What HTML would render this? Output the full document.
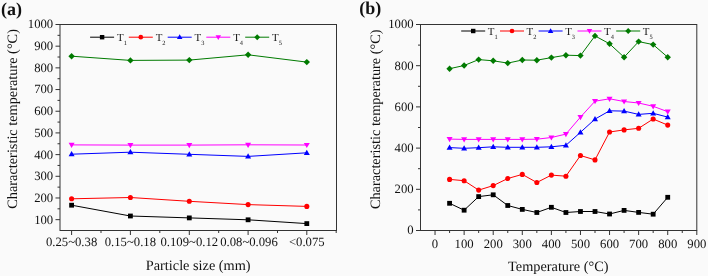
<!DOCTYPE html>
<html><head><meta charset="utf-8"><style>
html,body{margin:0;padding:0;background:#fafafa;}
body{width:708px;height:276px;overflow:hidden;}
svg{display:block;font-family:"Liberation Serif",serif;fill:#111;text-rendering:geometricPrecision;will-change:transform;}
</style></head><body>
<svg width="708" height="276" viewBox="0 0 708 276">
<rect width="708" height="276" fill="#fafafa"/>
<rect x="60" y="24.5" width="276.5" height="206" fill="none" stroke="#333333" stroke-width="1"/>
<line x1="55.5" y1="219.66" x2="60" y2="219.66" stroke="#333333" stroke-width="1.0"/>
<text x="53.2" y="223.56" font-size="12.7" text-anchor="end" font-weight="normal" >100</text>
<line x1="55.5" y1="197.97" x2="60" y2="197.97" stroke="#333333" stroke-width="1.0"/>
<text x="53.2" y="201.87" font-size="12.7" text-anchor="end" font-weight="normal" >200</text>
<line x1="55.5" y1="176.29" x2="60" y2="176.29" stroke="#333333" stroke-width="1.0"/>
<text x="53.2" y="180.19" font-size="12.7" text-anchor="end" font-weight="normal" >300</text>
<line x1="55.5" y1="154.61" x2="60" y2="154.61" stroke="#333333" stroke-width="1.0"/>
<text x="53.2" y="158.51" font-size="12.7" text-anchor="end" font-weight="normal" >400</text>
<line x1="55.5" y1="132.92" x2="60" y2="132.92" stroke="#333333" stroke-width="1.0"/>
<text x="53.2" y="136.82" font-size="12.7" text-anchor="end" font-weight="normal" >500</text>
<line x1="55.5" y1="111.24" x2="60" y2="111.24" stroke="#333333" stroke-width="1.0"/>
<text x="53.2" y="115.14" font-size="12.7" text-anchor="end" font-weight="normal" >600</text>
<line x1="55.5" y1="89.55" x2="60" y2="89.55" stroke="#333333" stroke-width="1.0"/>
<text x="53.2" y="93.45" font-size="12.7" text-anchor="end" font-weight="normal" >700</text>
<line x1="55.5" y1="67.87" x2="60" y2="67.87" stroke="#333333" stroke-width="1.0"/>
<text x="53.2" y="71.77" font-size="12.7" text-anchor="end" font-weight="normal" >800</text>
<line x1="55.5" y1="46.18" x2="60" y2="46.18" stroke="#333333" stroke-width="1.0"/>
<text x="53.2" y="50.08" font-size="12.7" text-anchor="end" font-weight="normal" >900</text>
<line x1="55.5" y1="24.5" x2="60" y2="24.5" stroke="#333333" stroke-width="1.0"/>
<text x="53.2" y="28.4" font-size="12.7" text-anchor="end" font-weight="normal" >1000</text>
<line x1="57.5" y1="208.82" x2="60" y2="208.82" stroke="#333333" stroke-width="1.0"/>
<line x1="57.5" y1="187.13" x2="60" y2="187.13" stroke="#333333" stroke-width="1.0"/>
<line x1="57.5" y1="165.45" x2="60" y2="165.45" stroke="#333333" stroke-width="1.0"/>
<line x1="57.5" y1="143.76" x2="60" y2="143.76" stroke="#333333" stroke-width="1.0"/>
<line x1="57.5" y1="122.08" x2="60" y2="122.08" stroke="#333333" stroke-width="1.0"/>
<line x1="57.5" y1="100.39" x2="60" y2="100.39" stroke="#333333" stroke-width="1.0"/>
<line x1="57.5" y1="78.71" x2="60" y2="78.71" stroke="#333333" stroke-width="1.0"/>
<line x1="57.5" y1="57.03" x2="60" y2="57.03" stroke="#333333" stroke-width="1.0"/>
<line x1="57.5" y1="35.34" x2="60" y2="35.34" stroke="#333333" stroke-width="1.0"/>
<line x1="71.6" y1="230.5" x2="71.6" y2="235" stroke="#333333" stroke-width="1.0"/>
<text x="71.6" y="246" font-size="12.7" text-anchor="middle" font-weight="normal" >0.25~0.38</text>
<line x1="130.4" y1="230.5" x2="130.4" y2="235" stroke="#333333" stroke-width="1.0"/>
<text x="130.4" y="246" font-size="12.7" text-anchor="middle" font-weight="normal" >0.15~0.18</text>
<line x1="189.3" y1="230.5" x2="189.3" y2="235" stroke="#333333" stroke-width="1.0"/>
<text x="189.3" y="246" font-size="12.7" text-anchor="middle" font-weight="normal" >0.109~0.12</text>
<line x1="248.1" y1="230.5" x2="248.1" y2="235" stroke="#333333" stroke-width="1.0"/>
<text x="249" y="246" font-size="12.7" text-anchor="middle" font-weight="normal" >0.08~0.096</text>
<line x1="306.8" y1="230.5" x2="306.8" y2="235" stroke="#333333" stroke-width="1.0"/>
<text x="306.8" y="246" font-size="12.7" text-anchor="middle" font-weight="normal" >&lt;0.075</text>
<line x1="101" y1="230.5" x2="101" y2="233" stroke="#333333" stroke-width="1.0"/>
<line x1="159.8" y1="230.5" x2="159.8" y2="233" stroke="#333333" stroke-width="1.0"/>
<line x1="218.7" y1="230.5" x2="218.7" y2="233" stroke="#333333" stroke-width="1.0"/>
<line x1="277.5" y1="230.5" x2="277.5" y2="233" stroke="#333333" stroke-width="1.0"/>
<line x1="336.2" y1="230.5" x2="336.2" y2="233" stroke="#333333" stroke-width="1.0"/>
<text x="198.2" y="270.2" font-size="14.3" text-anchor="middle" font-weight="normal" >Particle size (mm)</text>
<text transform="translate(16.7,118.9) rotate(-90)" x="0" y="0" font-size="14.3" text-anchor="middle">Characteristic temperature (°C)</text>
<text x="1" y="15.4" font-size="18" text-anchor="start" font-weight="bold" >(a)</text>
<polyline points="71.6,205.2 130.4,216 189.3,217.9 248.1,219.8 306.8,223.6" fill="none" stroke="#000000" stroke-width="1"/>
<rect x="69.2" y="202.8" width="4.8" height="4.8" fill="#000000"/>
<rect x="128" y="213.6" width="4.8" height="4.8" fill="#000000"/>
<rect x="186.9" y="215.5" width="4.8" height="4.8" fill="#000000"/>
<rect x="245.7" y="217.4" width="4.8" height="4.8" fill="#000000"/>
<rect x="304.4" y="221.2" width="4.8" height="4.8" fill="#000000"/>
<polyline points="71.6,198.8 130.4,197.5 189.3,201.3 248.1,204.6 306.8,206.4" fill="none" stroke="#ff0000" stroke-width="1"/>
<circle cx="71.6" cy="198.8" r="2.55" fill="#ff0000"/>
<circle cx="130.4" cy="197.5" r="2.55" fill="#ff0000"/>
<circle cx="189.3" cy="201.3" r="2.55" fill="#ff0000"/>
<circle cx="248.1" cy="204.6" r="2.55" fill="#ff0000"/>
<circle cx="306.8" cy="206.4" r="2.55" fill="#ff0000"/>
<polyline points="71.6,154.2 130.4,152.2 189.3,154.3 248.1,156.4 306.8,152.8" fill="none" stroke="#0000ff" stroke-width="1"/>
<polygon points="71.6,151.08 74.6,156.28 68.6,156.28" fill="#0000ff"/>
<polygon points="130.4,149.08 133.4,154.28 127.4,154.28" fill="#0000ff"/>
<polygon points="189.3,151.18 192.3,156.38 186.3,156.38" fill="#0000ff"/>
<polygon points="248.1,153.28 251.1,158.48 245.1,158.48" fill="#0000ff"/>
<polygon points="306.8,149.68 309.8,154.88 303.8,154.88" fill="#0000ff"/>
<polyline points="71.6,144.9 130.4,145.1 189.3,145.1 248.1,144.8 306.8,145" fill="none" stroke="#ff00ff" stroke-width="1"/>
<polygon points="71.6,148.02 74.6,142.82 68.6,142.82" fill="#ff00ff"/>
<polygon points="130.4,148.22 133.4,143.02 127.4,143.02" fill="#ff00ff"/>
<polygon points="189.3,148.22 192.3,143.02 186.3,143.02" fill="#ff00ff"/>
<polygon points="248.1,147.92 251.1,142.72 245.1,142.72" fill="#ff00ff"/>
<polygon points="306.8,148.12 309.8,142.92 303.8,142.92" fill="#ff00ff"/>
<polyline points="71.6,56.2 130.4,60.4 189.3,60.1 248.1,54.8 306.8,62.1" fill="none" stroke="#007a00" stroke-width="1"/>
<polygon points="71.6,53 74.8,56.2 71.6,59.4 68.4,56.2" fill="#007a00"/>
<polygon points="130.4,57.2 133.6,60.4 130.4,63.6 127.2,60.4" fill="#007a00"/>
<polygon points="189.3,56.9 192.5,60.1 189.3,63.3 186.1,60.1" fill="#007a00"/>
<polygon points="248.1,51.6 251.3,54.8 248.1,58 244.9,54.8" fill="#007a00"/>
<polygon points="306.8,58.9 310,62.1 306.8,65.3 303.6,62.1" fill="#007a00"/>
<line x1="90.1" y1="37.2" x2="114.1" y2="37.2" stroke="#000000" stroke-width="1"/>
<rect x="99.89" y="34.99" width="4.42" height="4.42" fill="#000000"/>
<text x="117" y="40.9" font-size="10.9">T<tspan font-size="6.4" dy="4.4">1</tspan></text>
<line x1="128.8" y1="37.2" x2="152.8" y2="37.2" stroke="#ff0000" stroke-width="1"/>
<circle cx="140.8" cy="37.2" r="2.35" fill="#ff0000"/>
<text x="155.7" y="40.9" font-size="10.9">T<tspan font-size="6.4" dy="4.4">2</tspan></text>
<line x1="167.7" y1="37.2" x2="191.7" y2="37.2" stroke="#0000ff" stroke-width="1"/>
<polygon points="179.7,34.33 182.46,39.11 176.94,39.11" fill="#0000ff"/>
<text x="194.6" y="40.9" font-size="10.9">T<tspan font-size="6.4" dy="4.4">3</tspan></text>
<line x1="206.3" y1="37.2" x2="230.3" y2="37.2" stroke="#ff00ff" stroke-width="1"/>
<polygon points="218.3,40.07 221.06,35.29 215.54,35.29" fill="#ff00ff"/>
<text x="233.2" y="40.9" font-size="10.9">T<tspan font-size="6.4" dy="4.4">4</tspan></text>
<line x1="245.2" y1="37.2" x2="269.2" y2="37.2" stroke="#007a00" stroke-width="1"/>
<polygon points="257.2,34.26 260.14,37.2 257.2,40.14 254.26,37.2" fill="#007a00"/>
<text x="272.1" y="40.9" font-size="10.9">T<tspan font-size="6.4" dy="4.4">5</tspan></text>
<rect x="420.5" y="24.5" width="276.3" height="206" fill="none" stroke="#333333" stroke-width="1"/>
<line x1="416" y1="230.5" x2="420.5" y2="230.5" stroke="#333333" stroke-width="1.0"/>
<text x="413.6" y="234.4" font-size="12.7" text-anchor="end" font-weight="normal" >0</text>
<line x1="416" y1="189.3" x2="420.5" y2="189.3" stroke="#333333" stroke-width="1.0"/>
<text x="413.6" y="193.2" font-size="12.7" text-anchor="end" font-weight="normal" >200</text>
<line x1="416" y1="148.1" x2="420.5" y2="148.1" stroke="#333333" stroke-width="1.0"/>
<text x="413.6" y="152" font-size="12.7" text-anchor="end" font-weight="normal" >400</text>
<line x1="416" y1="106.9" x2="420.5" y2="106.9" stroke="#333333" stroke-width="1.0"/>
<text x="413.6" y="110.8" font-size="12.7" text-anchor="end" font-weight="normal" >600</text>
<line x1="416" y1="65.7" x2="420.5" y2="65.7" stroke="#333333" stroke-width="1.0"/>
<text x="413.6" y="69.6" font-size="12.7" text-anchor="end" font-weight="normal" >800</text>
<line x1="416" y1="24.5" x2="420.5" y2="24.5" stroke="#333333" stroke-width="1.0"/>
<text x="413.6" y="28.4" font-size="12.7" text-anchor="end" font-weight="normal" >1000</text>
<line x1="418" y1="209.9" x2="420.5" y2="209.9" stroke="#333333" stroke-width="1.0"/>
<line x1="418" y1="168.7" x2="420.5" y2="168.7" stroke="#333333" stroke-width="1.0"/>
<line x1="418" y1="127.5" x2="420.5" y2="127.5" stroke="#333333" stroke-width="1.0"/>
<line x1="418" y1="86.3" x2="420.5" y2="86.3" stroke="#333333" stroke-width="1.0"/>
<line x1="418" y1="45.1" x2="420.5" y2="45.1" stroke="#333333" stroke-width="1.0"/>
<line x1="435.04" y1="230.5" x2="435.04" y2="235" stroke="#333333" stroke-width="1.0"/>
<text x="435.04" y="247.5" font-size="12.7" text-anchor="middle" font-weight="normal" >0</text>
<line x1="464.13" y1="230.5" x2="464.13" y2="235" stroke="#333333" stroke-width="1.0"/>
<text x="464.13" y="247.5" font-size="12.7" text-anchor="middle" font-weight="normal" >100</text>
<line x1="493.21" y1="230.5" x2="493.21" y2="235" stroke="#333333" stroke-width="1.0"/>
<text x="493.21" y="247.5" font-size="12.7" text-anchor="middle" font-weight="normal" >200</text>
<line x1="522.29" y1="230.5" x2="522.29" y2="235" stroke="#333333" stroke-width="1.0"/>
<text x="522.29" y="247.5" font-size="12.7" text-anchor="middle" font-weight="normal" >300</text>
<line x1="551.38" y1="230.5" x2="551.38" y2="235" stroke="#333333" stroke-width="1.0"/>
<text x="551.38" y="247.5" font-size="12.7" text-anchor="middle" font-weight="normal" >400</text>
<line x1="580.46" y1="230.5" x2="580.46" y2="235" stroke="#333333" stroke-width="1.0"/>
<text x="580.46" y="247.5" font-size="12.7" text-anchor="middle" font-weight="normal" >500</text>
<line x1="609.55" y1="230.5" x2="609.55" y2="235" stroke="#333333" stroke-width="1.0"/>
<text x="609.55" y="247.5" font-size="12.7" text-anchor="middle" font-weight="normal" >600</text>
<line x1="638.63" y1="230.5" x2="638.63" y2="235" stroke="#333333" stroke-width="1.0"/>
<text x="638.63" y="247.5" font-size="12.7" text-anchor="middle" font-weight="normal" >700</text>
<line x1="667.72" y1="230.5" x2="667.72" y2="235" stroke="#333333" stroke-width="1.0"/>
<text x="667.72" y="247.5" font-size="12.7" text-anchor="middle" font-weight="normal" >800</text>
<line x1="696.8" y1="230.5" x2="696.8" y2="235" stroke="#333333" stroke-width="1.0"/>
<text x="696.8" y="247.5" font-size="12.7" text-anchor="middle" font-weight="normal" >900</text>
<line x1="449.58" y1="230.5" x2="449.58" y2="233" stroke="#333333" stroke-width="1.0"/>
<line x1="478.67" y1="230.5" x2="478.67" y2="233" stroke="#333333" stroke-width="1.0"/>
<line x1="507.75" y1="230.5" x2="507.75" y2="233" stroke="#333333" stroke-width="1.0"/>
<line x1="536.84" y1="230.5" x2="536.84" y2="233" stroke="#333333" stroke-width="1.0"/>
<line x1="565.92" y1="230.5" x2="565.92" y2="233" stroke="#333333" stroke-width="1.0"/>
<line x1="595.01" y1="230.5" x2="595.01" y2="233" stroke="#333333" stroke-width="1.0"/>
<line x1="624.09" y1="230.5" x2="624.09" y2="233" stroke="#333333" stroke-width="1.0"/>
<line x1="653.17" y1="230.5" x2="653.17" y2="233" stroke="#333333" stroke-width="1.0"/>
<line x1="682.26" y1="230.5" x2="682.26" y2="233" stroke="#333333" stroke-width="1.0"/>
<text x="558.3" y="270.8" font-size="14.3" text-anchor="middle" font-weight="normal" >Temperature (°C)</text>
<text transform="translate(380.1,119.3) rotate(-90)" x="0" y="0" font-size="14.3" text-anchor="middle">Characteristic temperature (°C)</text>
<text x="359.2" y="13.6" font-size="18" text-anchor="start" font-weight="bold" >(b)</text>
<polyline points="449.58,203.3 464.13,210.2 478.67,196.6 493.21,194.8 507.75,205.5 522.29,209.4 536.84,212.5 551.38,207.3 565.92,212.5 580.46,211.5 595.01,211.5 609.55,214 624.09,210.4 638.63,212.4 653.17,214.2 667.72,197.3" fill="none" stroke="#000000" stroke-width="1"/>
<rect x="447.18" y="200.9" width="4.8" height="4.8" fill="#000000"/>
<rect x="461.73" y="207.8" width="4.8" height="4.8" fill="#000000"/>
<rect x="476.27" y="194.2" width="4.8" height="4.8" fill="#000000"/>
<rect x="490.81" y="192.4" width="4.8" height="4.8" fill="#000000"/>
<rect x="505.35" y="203.1" width="4.8" height="4.8" fill="#000000"/>
<rect x="519.89" y="207" width="4.8" height="4.8" fill="#000000"/>
<rect x="534.44" y="210.1" width="4.8" height="4.8" fill="#000000"/>
<rect x="548.98" y="204.9" width="4.8" height="4.8" fill="#000000"/>
<rect x="563.52" y="210.1" width="4.8" height="4.8" fill="#000000"/>
<rect x="578.06" y="209.1" width="4.8" height="4.8" fill="#000000"/>
<rect x="592.61" y="209.1" width="4.8" height="4.8" fill="#000000"/>
<rect x="607.15" y="211.6" width="4.8" height="4.8" fill="#000000"/>
<rect x="621.69" y="208" width="4.8" height="4.8" fill="#000000"/>
<rect x="636.23" y="210" width="4.8" height="4.8" fill="#000000"/>
<rect x="650.77" y="211.8" width="4.8" height="4.8" fill="#000000"/>
<rect x="665.32" y="194.9" width="4.8" height="4.8" fill="#000000"/>
<polyline points="449.58,179.4 464.13,180.7 478.67,190.1 493.21,185.6 507.75,178.5 522.29,174.4 536.84,182.5 551.38,175.1 565.92,176.2 580.46,155.5 595.01,159.9 609.55,132 624.09,129.9 638.63,128.3 653.17,119 667.72,125.1" fill="none" stroke="#ff0000" stroke-width="1"/>
<circle cx="449.58" cy="179.4" r="2.55" fill="#ff0000"/>
<circle cx="464.13" cy="180.7" r="2.55" fill="#ff0000"/>
<circle cx="478.67" cy="190.1" r="2.55" fill="#ff0000"/>
<circle cx="493.21" cy="185.6" r="2.55" fill="#ff0000"/>
<circle cx="507.75" cy="178.5" r="2.55" fill="#ff0000"/>
<circle cx="522.29" cy="174.4" r="2.55" fill="#ff0000"/>
<circle cx="536.84" cy="182.5" r="2.55" fill="#ff0000"/>
<circle cx="551.38" cy="175.1" r="2.55" fill="#ff0000"/>
<circle cx="565.92" cy="176.2" r="2.55" fill="#ff0000"/>
<circle cx="580.46" cy="155.5" r="2.55" fill="#ff0000"/>
<circle cx="595.01" cy="159.9" r="2.55" fill="#ff0000"/>
<circle cx="609.55" cy="132" r="2.55" fill="#ff0000"/>
<circle cx="624.09" cy="129.9" r="2.55" fill="#ff0000"/>
<circle cx="638.63" cy="128.3" r="2.55" fill="#ff0000"/>
<circle cx="653.17" cy="119" r="2.55" fill="#ff0000"/>
<circle cx="667.72" cy="125.1" r="2.55" fill="#ff0000"/>
<polyline points="449.58,147.6 464.13,148.3 478.67,147.7 493.21,146.8 507.75,147.3 522.29,147.3 536.84,147.3 551.38,146.8 565.92,145.3 580.46,132.3 595.01,119.1 609.55,110.8 624.09,111.1 638.63,114.4 653.17,113.3 667.72,117.1" fill="none" stroke="#0000ff" stroke-width="1"/>
<polygon points="449.58,144.48 452.58,149.68 446.58,149.68" fill="#0000ff"/>
<polygon points="464.13,145.18 467.13,150.38 461.13,150.38" fill="#0000ff"/>
<polygon points="478.67,144.58 481.67,149.78 475.67,149.78" fill="#0000ff"/>
<polygon points="493.21,143.68 496.21,148.88 490.21,148.88" fill="#0000ff"/>
<polygon points="507.75,144.18 510.75,149.38 504.75,149.38" fill="#0000ff"/>
<polygon points="522.29,144.18 525.29,149.38 519.29,149.38" fill="#0000ff"/>
<polygon points="536.84,144.18 539.84,149.38 533.84,149.38" fill="#0000ff"/>
<polygon points="551.38,143.68 554.38,148.88 548.38,148.88" fill="#0000ff"/>
<polygon points="565.92,142.18 568.92,147.38 562.92,147.38" fill="#0000ff"/>
<polygon points="580.46,129.18 583.46,134.38 577.46,134.38" fill="#0000ff"/>
<polygon points="595.01,115.98 598.01,121.18 592.01,121.18" fill="#0000ff"/>
<polygon points="609.55,107.68 612.55,112.88 606.55,112.88" fill="#0000ff"/>
<polygon points="624.09,107.98 627.09,113.18 621.09,113.18" fill="#0000ff"/>
<polygon points="638.63,111.28 641.63,116.48 635.63,116.48" fill="#0000ff"/>
<polygon points="653.17,110.18 656.17,115.38 650.17,115.38" fill="#0000ff"/>
<polygon points="667.72,113.98 670.72,119.18 664.72,119.18" fill="#0000ff"/>
<polyline points="449.58,139.1 464.13,139.4 478.67,139.4 493.21,139.4 507.75,139.4 522.29,139.4 536.84,139.2 551.38,137.5 565.92,134.1 580.46,117.1 595.01,101.2 609.55,98.8 624.09,101.5 638.63,103 653.17,106.3 667.72,111.7" fill="none" stroke="#ff00ff" stroke-width="1"/>
<polygon points="449.58,142.22 452.58,137.02 446.58,137.02" fill="#ff00ff"/>
<polygon points="464.13,142.52 467.13,137.32 461.13,137.32" fill="#ff00ff"/>
<polygon points="478.67,142.52 481.67,137.32 475.67,137.32" fill="#ff00ff"/>
<polygon points="493.21,142.52 496.21,137.32 490.21,137.32" fill="#ff00ff"/>
<polygon points="507.75,142.52 510.75,137.32 504.75,137.32" fill="#ff00ff"/>
<polygon points="522.29,142.52 525.29,137.32 519.29,137.32" fill="#ff00ff"/>
<polygon points="536.84,142.32 539.84,137.12 533.84,137.12" fill="#ff00ff"/>
<polygon points="551.38,140.62 554.38,135.42 548.38,135.42" fill="#ff00ff"/>
<polygon points="565.92,137.22 568.92,132.02 562.92,132.02" fill="#ff00ff"/>
<polygon points="580.46,120.22 583.46,115.02 577.46,115.02" fill="#ff00ff"/>
<polygon points="595.01,104.32 598.01,99.12 592.01,99.12" fill="#ff00ff"/>
<polygon points="609.55,101.92 612.55,96.72 606.55,96.72" fill="#ff00ff"/>
<polygon points="624.09,104.62 627.09,99.42 621.09,99.42" fill="#ff00ff"/>
<polygon points="638.63,106.12 641.63,100.92 635.63,100.92" fill="#ff00ff"/>
<polygon points="653.17,109.42 656.17,104.22 650.17,104.22" fill="#ff00ff"/>
<polygon points="667.72,114.82 670.72,109.62 664.72,109.62" fill="#ff00ff"/>
<polyline points="449.58,68.7 464.13,65.5 478.67,59.6 493.21,60.8 507.75,63.1 522.29,60 536.84,60.2 551.38,57.6 565.92,55.2 580.46,55.6 595.01,35.9 609.55,43.8 624.09,57.2 638.63,41.6 653.17,44.6 667.72,57.2" fill="none" stroke="#007a00" stroke-width="1"/>
<polygon points="449.58,65.5 452.78,68.7 449.58,71.9 446.38,68.7" fill="#007a00"/>
<polygon points="464.13,62.3 467.33,65.5 464.13,68.7 460.93,65.5" fill="#007a00"/>
<polygon points="478.67,56.4 481.87,59.6 478.67,62.8 475.47,59.6" fill="#007a00"/>
<polygon points="493.21,57.6 496.41,60.8 493.21,64 490.01,60.8" fill="#007a00"/>
<polygon points="507.75,59.9 510.95,63.1 507.75,66.3 504.55,63.1" fill="#007a00"/>
<polygon points="522.29,56.8 525.49,60 522.29,63.2 519.09,60" fill="#007a00"/>
<polygon points="536.84,57 540.04,60.2 536.84,63.4 533.64,60.2" fill="#007a00"/>
<polygon points="551.38,54.4 554.58,57.6 551.38,60.8 548.18,57.6" fill="#007a00"/>
<polygon points="565.92,52 569.12,55.2 565.92,58.4 562.72,55.2" fill="#007a00"/>
<polygon points="580.46,52.4 583.66,55.6 580.46,58.8 577.26,55.6" fill="#007a00"/>
<polygon points="595.01,32.7 598.21,35.9 595.01,39.1 591.81,35.9" fill="#007a00"/>
<polygon points="609.55,40.6 612.75,43.8 609.55,47 606.35,43.8" fill="#007a00"/>
<polygon points="624.09,54 627.29,57.2 624.09,60.4 620.89,57.2" fill="#007a00"/>
<polygon points="638.63,38.4 641.83,41.6 638.63,44.8 635.43,41.6" fill="#007a00"/>
<polygon points="653.17,41.4 656.37,44.6 653.17,47.8 649.97,44.6" fill="#007a00"/>
<polygon points="667.72,54 670.92,57.2 667.72,60.4 664.52,57.2" fill="#007a00"/>
<line x1="461.2" y1="31" x2="485.2" y2="31" stroke="#000000" stroke-width="1"/>
<rect x="470.99" y="28.79" width="4.42" height="4.42" fill="#000000"/>
<text x="487.8" y="34.7" font-size="10.9">T<tspan font-size="6.4" dy="4.4">1</tspan></text>
<line x1="500" y1="31" x2="524" y2="31" stroke="#ff0000" stroke-width="1"/>
<circle cx="512" cy="31" r="2.35" fill="#ff0000"/>
<text x="526.6" y="34.7" font-size="10.9">T<tspan font-size="6.4" dy="4.4">2</tspan></text>
<line x1="538.6" y1="31" x2="562.6" y2="31" stroke="#0000ff" stroke-width="1"/>
<polygon points="550.6,28.13 553.36,32.91 547.84,32.91" fill="#0000ff"/>
<text x="565.2" y="34.7" font-size="10.9">T<tspan font-size="6.4" dy="4.4">3</tspan></text>
<line x1="577.5" y1="31" x2="601.5" y2="31" stroke="#ff00ff" stroke-width="1"/>
<polygon points="589.5,33.87 592.26,29.09 586.74,29.09" fill="#ff00ff"/>
<text x="604.1" y="34.7" font-size="10.9">T<tspan font-size="6.4" dy="4.4">4</tspan></text>
<line x1="616.2" y1="31" x2="640.2" y2="31" stroke="#007a00" stroke-width="1"/>
<polygon points="628.2,28.06 631.14,31 628.2,33.94 625.26,31" fill="#007a00"/>
<text x="642.8" y="34.7" font-size="10.9">T<tspan font-size="6.4" dy="4.4">5</tspan></text>
</svg>
</body></html>
